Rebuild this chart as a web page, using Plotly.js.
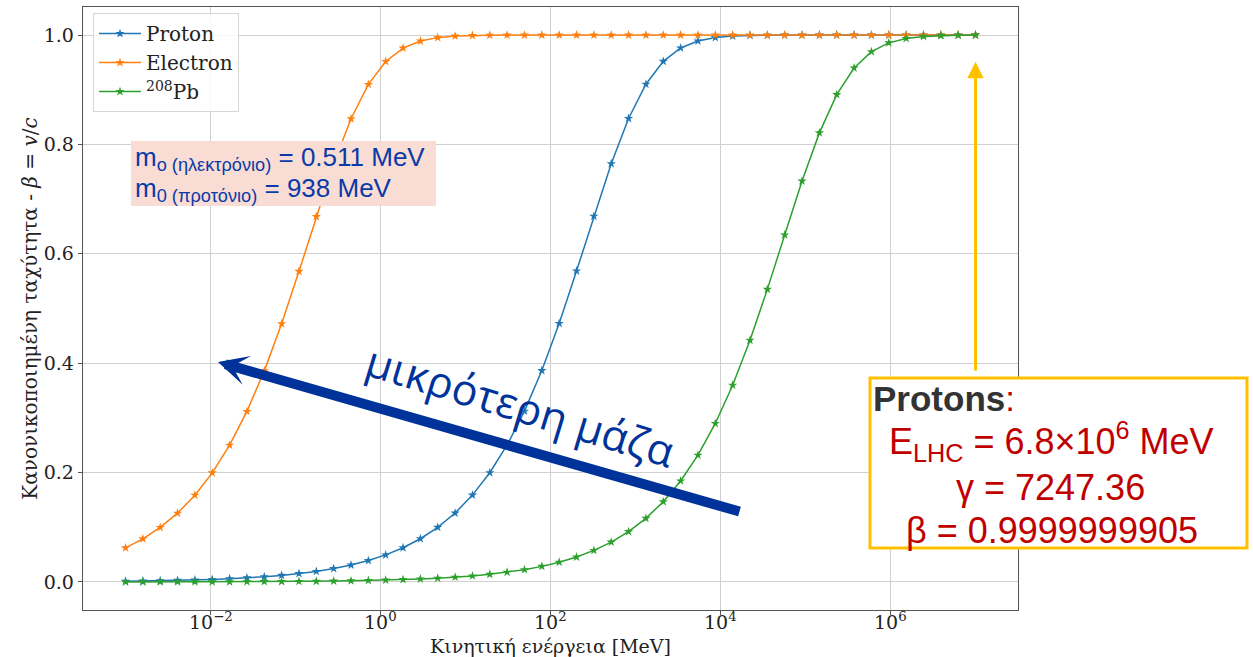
<!DOCTYPE html>
<html>
<head>
<meta charset="utf-8">
<script src="https://cdn.plot.ly/plotly-3.0.1.min.js"></script>
<style>html,body{margin:0;padding:0;background:#fff;}#chart{width:1253px;height:657px;}</style>
</head>
<body>
<div id="chart"></div>
<script>
// Kinetic energy [MeV] (log-spaced, 50 points from 1e-3 to 1e7)
const energyMeV = [0.001, 0.0016, 0.00255955, 0.00409486, 0.00655129, 0.0104811, 0.0167683, 0.026827, 0.0429193, 0.0686649,
  0.109854, 0.175751, 0.281177, 0.449843, 0.719686, 1.1514, 1.84207, 2.94705, 4.71487, 7.54312,
  12.0679, 19.307, 30.8884, 49.4171, 79.0604, 126.486, 202.359, 323.746, 517.947, 828.643,
  1325.71, 2120.95, 3393.22, 5428.68, 8685.11, 13895.0, 22230.2, 35564.9, 56898.7, 91029.8,
  145635, 232995, 372759, 596362, 954095, 1526420, 2442050, 3906940, 6250550, 10000000];

const betaProton = [0.00146, 0.00185, 0.00234, 0.00295, 0.00374, 0.00473, 0.00598, 0.00756, 0.00957, 0.0121,
  0.0153, 0.01936, 0.02448, 0.03097, 0.03917, 0.04949, 0.06257, 0.07907, 0.09987, 0.12604,
  0.15886, 0.19979, 0.25045, 0.31235, 0.38651, 0.47273, 0.56864, 0.66877, 0.76476, 0.84735,
  0.91008, 0.95181, 0.97626, 0.98908, 0.99524, 0.998, 0.99918, 0.99967, 0.99987, 0.99995,
  0.99998, 0.99999, 1.0, 1.0, 1.0, 1.0, 1.0, 1.0, 1.0, 1.0];

const betaElectron = [0.06247, 0.07895, 0.09972, 0.12584, 0.15861, 0.19948, 0.25007, 0.31188, 0.38596, 0.4721,
  0.56795, 0.66809, 0.76413, 0.84686, 0.90972, 0.95158, 0.97614, 0.98902, 0.99521, 0.99799,
  0.99917, 0.99967, 0.99987, 0.99995, 0.99998, 0.99999, 1.0, 1.0, 1.0, 1.0,
  1.0, 1.0, 1.0, 1.0, 1.0, 1.0, 1.0, 1.0, 1.0, 1.0,
  1.0, 1.0, 1.0, 1.0, 1.0, 1.0, 1.0, 1.0, 1.0, 1.0];

const betaPb = [0.0001, 0.00013, 0.00016, 0.00021, 0.00026, 0.00033, 0.00042, 0.00053, 0.00067, 0.00084,
  0.00107, 0.00135, 0.0017, 0.00216, 0.00273, 0.00345, 0.00436, 0.00552, 0.00698, 0.00883,
  0.01116, 0.01412, 0.01786, 0.02259, 0.02856, 0.03612, 0.04567, 0.05775, 0.07298, 0.0922,
  0.1164, 0.14678, 0.18476, 0.23191, 0.2898, 0.3597, 0.44193, 0.53497, 0.63447, 0.73294,
  0.82107, 0.89102, 0.93972, 0.96948, 0.98566, 0.99364, 0.9973, 0.99888, 0.99955, 0.99982];

const seriesNames = ['Proton', 'Electron', '<sup>208</sup>Pb'];
const seriesColors = ['#1f77b4', '#ff7f0e', '#2ca02c'];
const seriesValues = [betaProton, betaElectron, betaPb];

const xTickVals = [0.01, 1, 100, 10000, 1000000];
const xTickText = ['10<sup>\u22122</sup>', '10<sup>0</sup>', '10<sup>2</sup>', '10<sup>4</sup>', '10<sup>6</sup>'];
const yTickVals = [0.0, 0.2, 0.4, 0.6, 0.8, 1.0];
const yTickText = ['0.0', '0.2', '0.4', '0.6', '0.8', '1.0'];

const serif = 'DejaVu Serif, serif';
const sans = 'Liberation Sans, Arial, sans-serif';
const blue = '#0a3aa8';
const red = '#c00000';

const traces = seriesNames.map((n, i) => ({
  x: energyMeV, y: seriesValues[i], name: n, type: 'scatter', mode: 'lines+markers',
  legendgroup: 'g' + i,
  line: {color: seriesColors[i], width: 1.5},
  marker: {symbol: 'star', size: 7, color: seriesColors[i], line: {width: 0}}
}));

// x tick labels placed by the x axis scale, a little closer to the axis than Plotly's default
const xTickLabelAnn = xTickVals.map((v, i) => ({
  xref: 'x', yref: 'paper', x: Math.log10(v), y: 0, yanchor: 'top', xanchor: 'center', yshift: 3,
  showarrow: false, text: xTickText[i], font: {family: serif, size: 19, color: '#222'}
}));

const layout = {
  width: 1253, height: 657,
  margin: {l: 83, r: 235, t: 7, b: 47},
  paper_bgcolor: '#ffffff', plot_bgcolor: '#ffffff',
  showlegend: true,
  legend: {x: 0.0107, y: 0.99, xanchor: 'left', yanchor: 'top',
    bgcolor: 'rgba(255,255,255,0.85)', bordercolor: '#d6d6d6', borderwidth: 1,
    font: {family: serif, size: 20, color: '#222'}, tracegroupgap: 0, itemwidth: 42},
  xaxis: {type: 'log', range: [-3.5, 7.5], tickvals: xTickVals, ticktext: xTickText, showticklabels: false,
    showgrid: true, gridcolor: '#d0d0d0', gridwidth: 1,
    showline: true, linecolor: '#555', linewidth: 1.3, mirror: true,
    ticks: 'outside', ticklen: 4, tickcolor: '#555', zeroline: false,
    title: {text: 'Κινητική ενέργεια [MeV]', font: {family: serif, size: 19, color: '#222'}, standoff: 26}},
  yaxis: {range: [-0.0512, 1.0512], tickvals: yTickVals, ticktext: yTickText,
    tickfont: {family: serif, size: 19, color: '#222'},
    showgrid: true, gridcolor: '#d0d0d0', gridwidth: 1,
    showline: true, linecolor: '#555', linewidth: 1.3, mirror: true,
    ticks: 'outside', ticklen: 4, tickcolor: '#555', zeroline: false,
    title: {text: 'Κανονικοποιημένη ταχύτητα - <i>β</i> = <i>v</i>/<i>c</i>', font: {family: serif, size: 20, color: '#222'}, standoff: 0}},
  shapes: [
    {type: 'rect', xref: 'paper', yref: 'paper', x0: 0.0513, x1: 0.3775, y0: 0.670, y1: 0.7778,
      fillcolor: '#f9dcd3', line: {width: 0}, layer: 'above'},
    {type: 'rect', xref: 'paper', yref: 'paper', x0: 0.8417, x1: 1.2449, y0: 0.1028, y1: 0.3847,
      fillcolor: '#ffffff', line: {color: '#ffc000', width: 3}, layer: 'above'}
  ],
  annotations: xTickLabelAnn.concat([
    {xref: 'paper', yref: 'paper', x: 0.053, y: 0.748, xanchor: 'left', yanchor: 'middle', showarrow: false,
      text: 'm<sub>o (ηλεκτρόνιο)</sub> = 0.511 MeV', font: {family: sans, size: 26, color: blue}},
    {xref: 'paper', yref: 'paper', x: 0.053, y: 0.698, xanchor: 'left', yanchor: 'middle', showarrow: false,
      text: 'm<sub>0 (προτόνιο)</sub> = 938 MeV', font: {family: sans, size: 26, color: blue}},
    // big blue arrow
    {x: -1.912, y: 0.402, ax: 4.241, ay: 0.128, xref: 'x', yref: 'y', axref: 'x', ayref: 'y',
      text: '', showarrow: true, arrowhead: 3, arrowsize: 0.5, arrowwidth: 10, arrowcolor: '#003399', standoff: 0},
    {xref: 'paper', yref: 'paper', x: (521 - 83) / 935, y: (610 - 405) / 603, xanchor: 'center', yanchor: 'middle',
      showarrow: false, textangle: 17, text: 'μικρότερη μάζα', font: {family: 'Open Sans, sans-serif', size: 43, color: '#003399'}},
    // yellow arrow
    {x: 7.0, y: 0.951, ax: 7.0, ay: 0.384, xref: 'x', yref: 'y', axref: 'x', ayref: 'y',
      text: '', showarrow: true, arrowhead: 2, arrowsize: 1.1, arrowwidth: 3, arrowcolor: '#ffc000', standoff: 0},
    // Protons box text
    {xref: 'paper', yref: 'paper', x: (871 - 83) / 935, y: (610 - 398) / 603, xanchor: 'left', yanchor: 'middle', showarrow: false,
      text: '<b>Protons</b><span style="color:' + red + '">:</span>', font: {family: sans, size: 35, color: '#333333'}},
    {xref: 'paper', yref: 'paper', x: (1051 - 83) / 935, y: (610 - 442) / 603, xanchor: 'center', yanchor: 'middle', showarrow: false,
      text: 'E<sub>LHC</sub> = 6.8×10<sup>6</sup> MeV', font: {family: sans, size: 36, color: red}},
    {xref: 'paper', yref: 'paper', x: (1050 - 83) / 935, y: (610 - 487) / 603, xanchor: 'center', yanchor: 'middle', showarrow: false,
      text: 'γ = 7247.36', font: {family: sans, size: 36, color: red}},
    {xref: 'paper', yref: 'paper', x: (1052 - 83) / 935, y: (610 - 530) / 603, xanchor: 'center', yanchor: 'middle', showarrow: false,
      text: 'β = 0.9999999905', font: {family: sans, size: 36, color: red}}
  ])
};

Plotly.newPlot('chart', traces, layout, {displayModeBar: false, staticPlot: true});
</script>
</body>
</html>
